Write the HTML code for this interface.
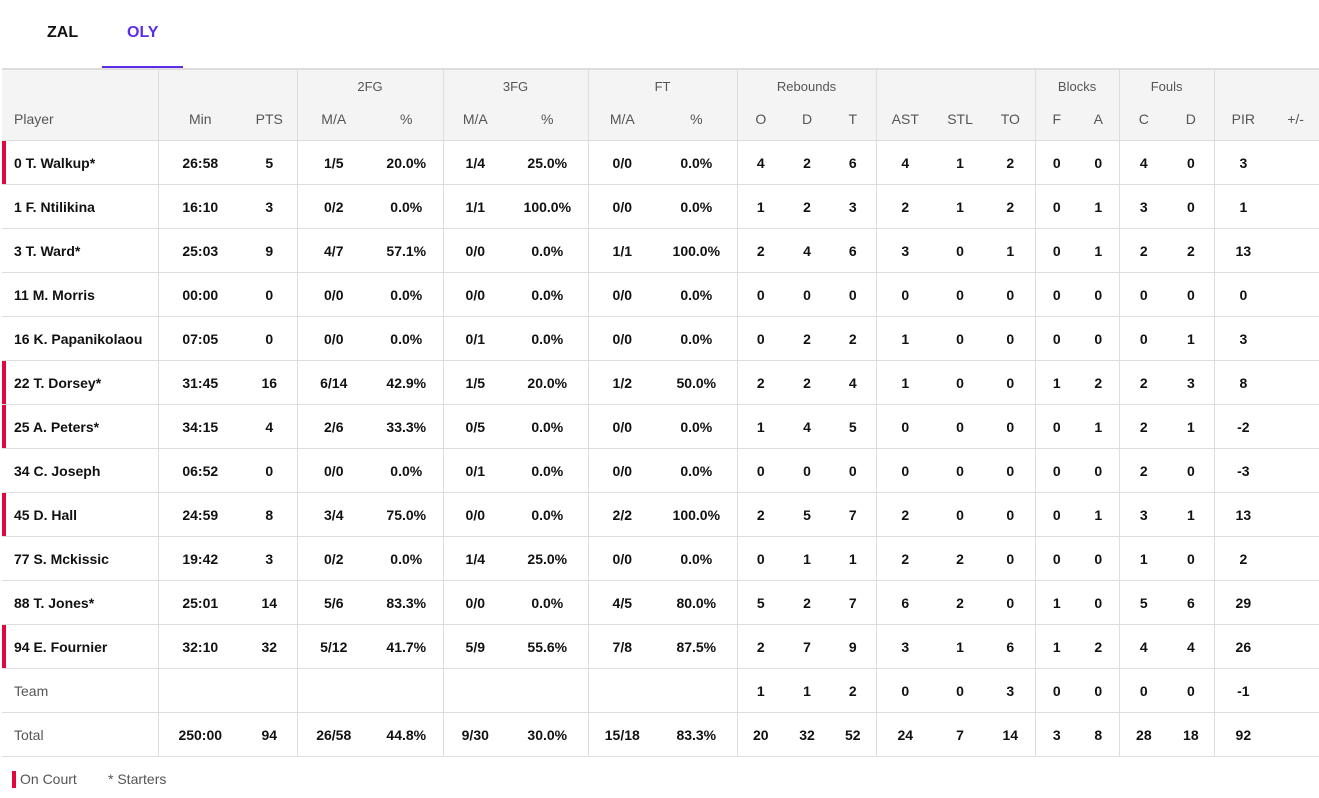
<!DOCTYPE html>
<html><head><meta charset="utf-8"><style>
body{margin:0;width:1319px;height:798px;background:#fff;font-family:"Liberation Sans",sans-serif;position:relative;overflow:hidden}
.tab{position:absolute;top:24px;font-weight:bold;font-size:16px}
table{position:absolute;left:2px;top:68px;border-collapse:collapse;table-layout:fixed;width:1317px;font-size:14px}
td,th{padding:0;text-align:center;white-space:nowrap;overflow:hidden}
thead th{background:#f4f4f4;color:#555;font-weight:normal;font-size:13px}
thead tr.g th{height:29px;vertical-align:middle;border-top:2px solid #ddd;padding-top:2px}
thead tr.s th{height:35px;font-size:14px;padding-bottom:4px}
tbody td{height:43px;border-top:1px solid #ddd;font-weight:bold;color:#111}
tbody tr:last-child td{border-bottom:1px solid #ddd}
td.p,th.p{text-align:left;padding-left:12px}
td.n{font-weight:normal;color:#555}
.b{border-right:1px solid #ddd}
tr.oc td.p{box-shadow:inset 4px 0 0 #e0073f}
.leg{position:absolute;top:771px;font-size:14px;color:#555}
</style></head><body>
<div class="tab" style="left:47px;color:#111">ZAL</div>
<div class="tab" style="left:127px;color:#5b2ee6">OLY</div>
<div style="position:absolute;left:102px;top:66px;width:81px;height:2px;background:#5b2ee6"></div>
<table>
<colgroup><col style="width:156px"><col style="width:84px"><col style="width:55px"><col style="width:73px"><col style="width:73px"><col style="width:64px"><col style="width:81px"><col style="width:68px"><col style="width:81px"><col style="width:47px"><col style="width:46px"><col style="width:46px"><col style="width:58px"><col style="width:52px"><col style="width:49px"><col style="width:43px"><col style="width:41px"><col style="width:49px"><col style="width:46px"><col style="width:58px"><col style="width:47px"></colgroup>
<thead>
<tr class="g"><th class="b"></th><th colspan="2" class="b"></th><th colspan="2" class="b">2FG</th><th colspan="2" class="b">3FG</th><th colspan="2" class="b">FT</th><th colspan="3" class="b">Rebounds</th><th colspan="3" class="b"></th><th colspan="2" class="b">Blocks</th><th colspan="2" class="b">Fouls</th><th colspan="2"></th></tr>
<tr class="s"><th class="p b">Player</th><th>Min</th><th class="b">PTS</th><th>M/A</th><th class="b">%</th><th>M/A</th><th class="b">%</th><th>M/A</th><th class="b">%</th><th>O</th><th>D</th><th class="b">T</th><th>AST</th><th>STL</th><th class="b">TO</th><th>F</th><th class="b">A</th><th>C</th><th class="b">D</th><th>PIR</th><th>+/-</th></tr>
</thead>
<tbody>
<tr class="oc"><td class="p b">0 T. Walkup*</td><td>26:58</td><td class="b">5</td><td>1/5</td><td class="b">20.0%</td><td>1/4</td><td class="b">25.0%</td><td>0/0</td><td class="b">0.0%</td><td>4</td><td>2</td><td class="b">6</td><td>4</td><td>1</td><td class="b">2</td><td>0</td><td class="b">0</td><td>4</td><td class="b">0</td><td>3</td><td></td></tr>
<tr><td class="p b">1 F. Ntilikina</td><td>16:10</td><td class="b">3</td><td>0/2</td><td class="b">0.0%</td><td>1/1</td><td class="b">100.0%</td><td>0/0</td><td class="b">0.0%</td><td>1</td><td>2</td><td class="b">3</td><td>2</td><td>1</td><td class="b">2</td><td>0</td><td class="b">1</td><td>3</td><td class="b">0</td><td>1</td><td></td></tr>
<tr><td class="p b">3 T. Ward*</td><td>25:03</td><td class="b">9</td><td>4/7</td><td class="b">57.1%</td><td>0/0</td><td class="b">0.0%</td><td>1/1</td><td class="b">100.0%</td><td>2</td><td>4</td><td class="b">6</td><td>3</td><td>0</td><td class="b">1</td><td>0</td><td class="b">1</td><td>2</td><td class="b">2</td><td>13</td><td></td></tr>
<tr><td class="p b">11 M. Morris</td><td>00:00</td><td class="b">0</td><td>0/0</td><td class="b">0.0%</td><td>0/0</td><td class="b">0.0%</td><td>0/0</td><td class="b">0.0%</td><td>0</td><td>0</td><td class="b">0</td><td>0</td><td>0</td><td class="b">0</td><td>0</td><td class="b">0</td><td>0</td><td class="b">0</td><td>0</td><td></td></tr>
<tr><td class="p b">16 K. Papanikolaou</td><td>07:05</td><td class="b">0</td><td>0/0</td><td class="b">0.0%</td><td>0/1</td><td class="b">0.0%</td><td>0/0</td><td class="b">0.0%</td><td>0</td><td>2</td><td class="b">2</td><td>1</td><td>0</td><td class="b">0</td><td>0</td><td class="b">0</td><td>0</td><td class="b">1</td><td>3</td><td></td></tr>
<tr class="oc"><td class="p b">22 T. Dorsey*</td><td>31:45</td><td class="b">16</td><td>6/14</td><td class="b">42.9%</td><td>1/5</td><td class="b">20.0%</td><td>1/2</td><td class="b">50.0%</td><td>2</td><td>2</td><td class="b">4</td><td>1</td><td>0</td><td class="b">0</td><td>1</td><td class="b">2</td><td>2</td><td class="b">3</td><td>8</td><td></td></tr>
<tr class="oc"><td class="p b">25 A. Peters*</td><td>34:15</td><td class="b">4</td><td>2/6</td><td class="b">33.3%</td><td>0/5</td><td class="b">0.0%</td><td>0/0</td><td class="b">0.0%</td><td>1</td><td>4</td><td class="b">5</td><td>0</td><td>0</td><td class="b">0</td><td>0</td><td class="b">1</td><td>2</td><td class="b">1</td><td>-2</td><td></td></tr>
<tr><td class="p b">34 C. Joseph</td><td>06:52</td><td class="b">0</td><td>0/0</td><td class="b">0.0%</td><td>0/1</td><td class="b">0.0%</td><td>0/0</td><td class="b">0.0%</td><td>0</td><td>0</td><td class="b">0</td><td>0</td><td>0</td><td class="b">0</td><td>0</td><td class="b">0</td><td>2</td><td class="b">0</td><td>-3</td><td></td></tr>
<tr class="oc"><td class="p b">45 D. Hall</td><td>24:59</td><td class="b">8</td><td>3/4</td><td class="b">75.0%</td><td>0/0</td><td class="b">0.0%</td><td>2/2</td><td class="b">100.0%</td><td>2</td><td>5</td><td class="b">7</td><td>2</td><td>0</td><td class="b">0</td><td>0</td><td class="b">1</td><td>3</td><td class="b">1</td><td>13</td><td></td></tr>
<tr><td class="p b">77 S. Mckissic</td><td>19:42</td><td class="b">3</td><td>0/2</td><td class="b">0.0%</td><td>1/4</td><td class="b">25.0%</td><td>0/0</td><td class="b">0.0%</td><td>0</td><td>1</td><td class="b">1</td><td>2</td><td>2</td><td class="b">0</td><td>0</td><td class="b">0</td><td>1</td><td class="b">0</td><td>2</td><td></td></tr>
<tr><td class="p b">88 T. Jones*</td><td>25:01</td><td class="b">14</td><td>5/6</td><td class="b">83.3%</td><td>0/0</td><td class="b">0.0%</td><td>4/5</td><td class="b">80.0%</td><td>5</td><td>2</td><td class="b">7</td><td>6</td><td>2</td><td class="b">0</td><td>1</td><td class="b">0</td><td>5</td><td class="b">6</td><td>29</td><td></td></tr>
<tr class="oc"><td class="p b">94 E. Fournier</td><td>32:10</td><td class="b">32</td><td>5/12</td><td class="b">41.7%</td><td>5/9</td><td class="b">55.6%</td><td>7/8</td><td class="b">87.5%</td><td>2</td><td>7</td><td class="b">9</td><td>3</td><td>1</td><td class="b">6</td><td>1</td><td class="b">2</td><td>4</td><td class="b">4</td><td>26</td><td></td></tr>
<tr><td class="p b n">Team</td><td></td><td class="b"></td><td></td><td class="b"></td><td></td><td class="b"></td><td></td><td class="b"></td><td>1</td><td>1</td><td class="b">2</td><td>0</td><td>0</td><td class="b">3</td><td>0</td><td class="b">0</td><td>0</td><td class="b">0</td><td>-1</td><td></td></tr>
<tr><td class="p b n">Total</td><td>250:00</td><td class="b">94</td><td>26/58</td><td class="b">44.8%</td><td>9/30</td><td class="b">30.0%</td><td>15/18</td><td class="b">83.3%</td><td>20</td><td>32</td><td class="b">52</td><td>24</td><td>7</td><td class="b">14</td><td>3</td><td class="b">8</td><td>28</td><td class="b">18</td><td>92</td><td></td></tr>
</tbody></table>
<div style="position:absolute;left:12px;top:771px;width:4px;height:17px;background:#e0073f"></div>
<div class="leg" style="left:20px">On Court</div>
<div class="leg" style="left:108px">* Starters</div>
</body></html>
